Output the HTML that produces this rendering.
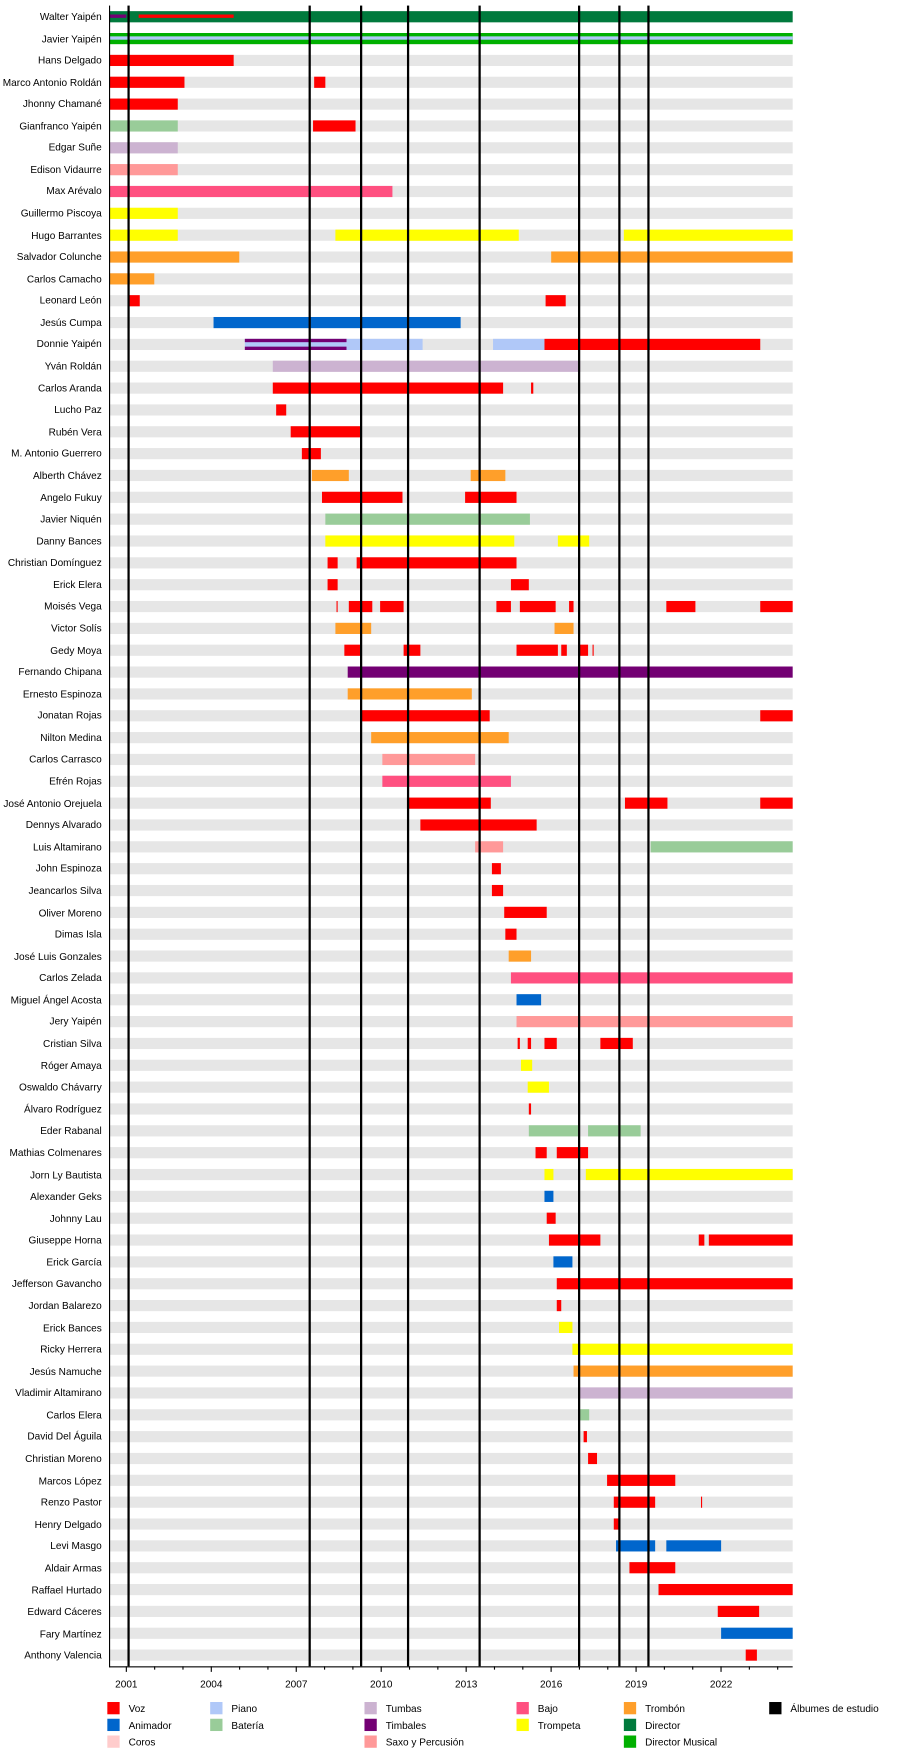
<!DOCTYPE html>
<html><head><meta charset="utf-8"><style>
html,body{margin:0;padding:0;background:#fff;}
svg{display:block;}
text{font-family:"Liberation Sans",sans-serif;font-size:9px;fill:#000;}
</style></head><body>
<svg id="s" width="900" height="1750" viewBox="0 0 805 1568" preserveAspectRatio="none" xmlns="http://www.w3.org/2000/svg">
<g id="bg"></g><g id="bars"></g><g id="lines"></g>
<g text-anchor="end" id="names">
<text x="91" y="18">Walter Yaipén</text>
<text x="91" y="38">Javier Yaipén</text>
<text x="91" y="57">Hans Delgado</text>
<text x="91" y="77">Marco Antonio Roldán</text>
<text x="91" y="96">Jhonny Chamané</text>
<text x="91" y="116">Gianfranco Yaipén</text>
<text x="91" y="135">Edgar Suñe</text>
<text x="91" y="155">Edison Vidaurre</text>
<text x="91" y="174">Max Arévalo</text>
<text x="91" y="194">Guillermo Piscoya</text>
<text x="91" y="214">Hugo Barrantes</text>
<text x="91" y="233">Salvador Colunche</text>
<text x="91" y="253">Carlos Camacho</text>
<text x="91" y="272">Leonard León</text>
<text x="91" y="292">Jesús Cumpa</text>
<text x="91" y="311">Donnie Yaipén</text>
<text x="91" y="331">Yván Roldán</text>
<text x="91" y="351">Carlos Aranda</text>
<text x="91" y="370">Lucho Paz</text>
<text x="91" y="390">Rubén Vera</text>
<text x="91" y="409">M. Antonio Guerrero</text>
<text x="91" y="429">Alberth Chávez</text>
<text x="91" y="449">Angelo Fukuy</text>
<text x="91" y="468">Javier Niquén</text>
<text x="91" y="488">Danny Bances</text>
<text x="91" y="507">Christian Domínguez</text>
<text x="91" y="527">Erick Elera</text>
<text x="91" y="546">Moisés Vega</text>
<text x="91" y="566">Victor Solís</text>
<text x="91" y="586">Gedy Moya</text>
<text x="91" y="605">Fernando Chipana</text>
<text x="91" y="625">Ernesto Espinoza</text>
<text x="91" y="644">Jonatan Rojas</text>
<text x="91" y="664">Nilton Medina</text>
<text x="91" y="683">Carlos Carrasco</text>
<text x="91" y="703">Efrén Rojas</text>
<text x="91" y="723">José Antonio Orejuela</text>
<text x="91" y="742">Dennys Alvarado</text>
<text x="91" y="762">Luis Altamirano</text>
<text x="91" y="781">John Espinoza</text>
<text x="91" y="801">Jeancarlos Silva</text>
<text x="91" y="821">Oliver Moreno</text>
<text x="91" y="840">Dimas Isla</text>
<text x="91" y="860">José Luis Gonzales</text>
<text x="91" y="879">Carlos Zelada</text>
<text x="91" y="899">Miguel Ángel Acosta</text>
<text x="91" y="918">Jery Yaipén</text>
<text x="91" y="938">Cristian Silva</text>
<text x="91" y="958">Róger Amaya</text>
<text x="91" y="977">Oswaldo Chávarry</text>
<text x="91" y="997">Álvaro Rodríguez</text>
<text x="91" y="1016">Eder Rabanal</text>
<text x="91" y="1036">Mathias Colmenares</text>
<text x="91" y="1056">Jorn Ly Bautista</text>
<text x="91" y="1075">Alexander Geks</text>
<text x="91" y="1095">Johnny Lau</text>
<text x="91" y="1114">Giuseppe Horna</text>
<text x="91" y="1134">Erick García</text>
<text x="91" y="1153">Jefferson Gavancho</text>
<text x="91" y="1173">Jordan Balarezo</text>
<text x="91" y="1193">Erick Bances</text>
<text x="91" y="1212">Ricky Herrera</text>
<text x="91" y="1232">Jesús Namuche</text>
<text x="91" y="1251">Vladimir Altamirano</text>
<text x="91" y="1271">Carlos Elera</text>
<text x="91" y="1290">David Del Águila</text>
<text x="91" y="1310">Christian Moreno</text>
<text x="91" y="1330">Marcos López</text>
<text x="91" y="1349">Renzo Pastor</text>
<text x="91" y="1369">Henry Delgado</text>
<text x="91" y="1388">Levi Masgo</text>
<text x="91" y="1408">Aldair Armas</text>
<text x="91" y="1428">Raffael Hurtado</text>
<text x="91" y="1447">Edward Cáceres</text>
<text x="91" y="1467">Fary Martínez</text>
<text x="91" y="1486">Anthony Valencia</text>
</g>
<g text-anchor="middle">
<text x="113" y="1512">2001</text><text x="189" y="1512">2004</text><text x="265" y="1512">2007</text><text x="341" y="1512">2010</text>
<text x="417" y="1512">2013</text><text x="493" y="1512">2016</text><text x="569" y="1512">2019</text><text x="645" y="1512">2022</text>
</g>
<g id="legend">
<rect x="96" y="1525" width="11" height="11" fill="#ff0000"/><text x="115" y="1534">Voz</text>
<rect x="96" y="1540" width="11" height="11" fill="#0066cc"/><text x="115" y="1549">Animador</text>
<rect x="96" y="1555" width="11" height="11" fill="#ffcccc"/><text x="115" y="1564">Coros</text>
<rect x="188" y="1525" width="11" height="11" fill="#b0c8f8"/><text x="207" y="1534">Piano</text>
<rect x="188" y="1540" width="11" height="11" fill="#99cc99"/><text x="207" y="1549">Batería</text>
<rect x="326" y="1525" width="11" height="11" fill="#ccb3d1"/><text x="345" y="1534">Tumbas</text>
<rect x="326" y="1540" width="11" height="11" fill="#730073"/><text x="345" y="1549">Timbales</text>
<rect x="326" y="1555" width="11" height="11" fill="#ff9999"/><text x="345" y="1564">Saxo y Percusión</text>
<rect x="462" y="1525" width="11" height="11" fill="#ff5080"/><text x="481" y="1534">Bajo</text>
<rect x="462" y="1540" width="11" height="11" fill="#ffff00"/><text x="481" y="1549">Trompeta</text>
<rect x="558" y="1525" width="11" height="11" fill="#ff9f2a"/><text x="577" y="1534">Trombón</text>
<rect x="558" y="1540" width="11" height="11" fill="#007a3d"/><text x="577" y="1549">Director</text>
<rect x="558" y="1555" width="11" height="11" fill="#00b000"/><text x="577" y="1564">Director Musical</text>
<rect x="688" y="1525" width="11" height="11" fill="#000"/><text x="707" y="1534">Álbumes de estudio</text>
</g>
</svg>
<script>
var C={V:"#ff0000",A:"#0066cc",P:"#b0c8f8",B:"#99cc99",T:"#ccb3d1",M:"#730073",S:"#ff9999",J:"#ff5080",Y:"#ffff00",O:"#ff9f2a",D:"#007a3d",DM:"#00b000"};
var R=[
[["D",98,709]],
[["DM",98,709]],
[["V",98,209]],
[["V",98,165],["V",281,291]],
[["V",98,159]],
[["B",98,159],["V",280,318]],
[["T",98,159]],
[["S",98,159]],
[["J",98,351]],
[["Y",98,159]],
[["Y",98,159],["Y",300,464],["Y",558,709]],
[["O",98,214],["O",493,709]],
[["O",98,138]],
[["V",115,125],["V",488,506]],
[["A",191,412]],
[["M",219,310],["P",310,378],["P",441,487],["V",487,680]],
[["T",244,519]],
[["V",244,450],["V",475,477]],
[["V",247,256]],
[["V",260,322]],
[["V",270,287]],
[["O",279,312],["O",421,452]],
[["V",288,360],["V",416,462]],
[["B",291,474]],
[["Y",291,460],["Y",499,527]],
[["V",293,302],["V",319,462]],
[["V",293,302],["V",457,473]],
[["V",301,302],["V",312,333],["V",340,361],["V",444,457],["V",465,497],["V",509,513],["V",596,622],["V",680,709]],
[["O",300,332],["O",496,513]],
[["V",308,323],["V",361,376],["V",462,499],["V",502,507],["V",518,526],["V",530,531]],
[["M",311,709]],
[["O",311,422]],
[["V",323,438],["V",680,709]],
[["O",332,455]],
[["S",342,425]],
[["J",342,457]],
[["V",364,439],["V",559,597],["V",680,709]],
[["V",376,480]],
[["S",425,450],["B",582,709]],
[["V",440,448]],
[["V",440,450]],
[["V",451,489]],
[["V",452,462]],
[["O",455,475]],
[["J",457,709]],
[["A",462,484]],
[["S",462,709]],
[["V",463,465],["V",472,475],["V",487,498],["V",537,566]],
[["Y",466,476]],
[["Y",472,491]],
[["V",473,475]],
[["B",473,518],["B",526,573]],
[["V",479,489],["V",498,526]],
[["Y",487,495],["Y",524,709]],
[["A",487,495]],
[["V",489,497]],
[["V",491,537],["V",625,630],["V",634,709]],
[["A",495,512]],
[["V",498,709]],
[["V",498,502]],
[["Y",500,512]],
[["Y",512,709]],
[["O",513,709]],
[["T",518,709]],
[["B",518,527]],
[["V",522,525]],
[["V",526,534]],
[["V",543,604]],
[["V",549,586],["V",627,628]],
[["V",549,555]],
[["A",551,586],["A",596,645]],
[["V",563,604]],
[["V",589,709]],
[["V",642,679]],
[["A",645,709]],
[["V",667,677]]
];
var NS="http://www.w3.org/2000/svg";
function r(g,x,y,w,h,f){var e=document.createElementNS(NS,"rect");e.setAttribute("x",x);e.setAttribute("y",y);e.setAttribute("width",w);e.setAttribute("height",h);e.setAttribute("fill",f);document.getElementById(g).appendChild(e);}
for(var i=0;i<R.length;i++){var cy=15+i*19.573;
 r("bg",98,cy-5,611,10,"#e6e6e6");
 R[i].forEach(function(b){var w=Math.max(b[2]-b[1],1);
  if(b[0]=="M"&&i==15){r("bars",b[1],cy-5,w,10,C.P);r("bars",b[1],cy-5,w,3,C.M);r("bars",b[1],cy+2,w,3,C.M);}
  else r("bars",b[1],cy-5,w,10,C[b[0]]);});
 if(i==0){r("bars",124,cy-2,85,3,C.V);r("bars",98,cy-2,15,3,C.M);}
 if(i==1){r("bars",98,cy-2,611,3,C.P);}
}
[115,277,323,365,429,518,554,580].forEach(function(x){r("lines",x-1,5,2,1488,"#000");});
r("lines",97.5,5,1,1489,"#000");
r("lines",98,1493,611,1,"#000");
for(var y=2001;y<=2024;y++){var x=113+(y-2001)*25.33;var big=(y-2001)%3==0;r("lines",x-0.5,1493,1,big?5:3,"#000");}
</script>
</body></html>
